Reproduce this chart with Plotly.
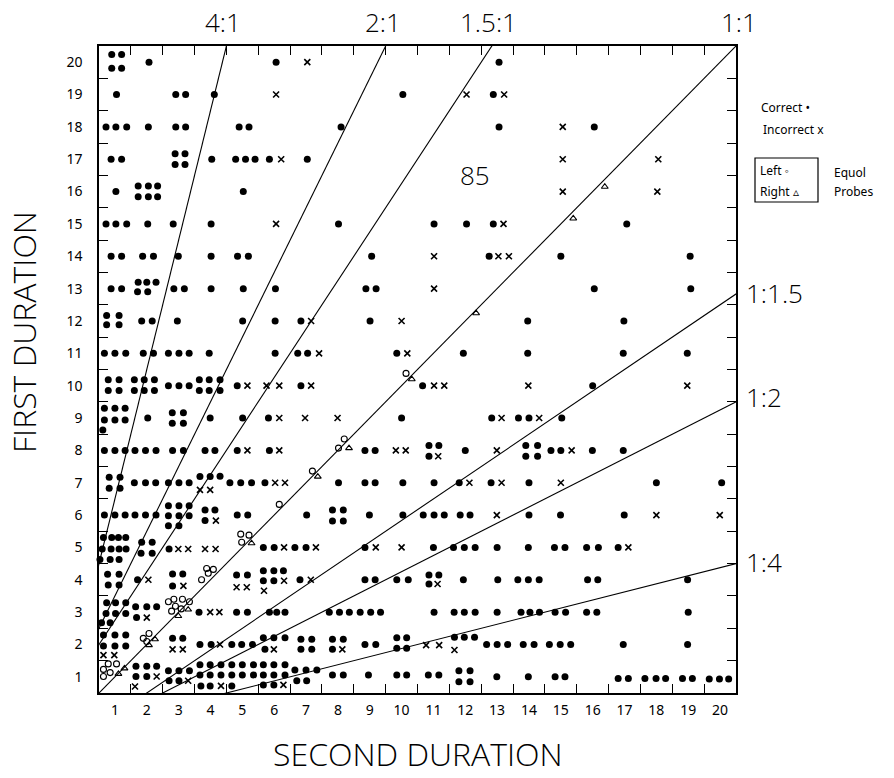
import plotly.graph_objects as go

# ---- data (cell coordinates: column = second duration, row = first duration) ----
durations = list(range(1, 21))

correct_pts = [
    # row 20
    (0.90,20.24),(1.21,20.24),(0.90,19.81),(1.21,19.81),(2.07,20.0),(6.06,20.0),(13.06,20.0),
    # row 19
    (1.05,19),(2.91,19),(3.22,19),(4.12,19),(10.04,19),(12.88,19),
    # row 18
    (0.72,18),(1.03,18),(1.37,18),(2.05,18),(2.91,18),(3.22,18),(4.90,18),(5.21,18),(8.10,18),(13.06,18),(16.05,18),
    # row 17
    (0.88,17),(1.21,17),(2.89,17.17),(3.20,17.17),(2.89,16.84),(3.20,16.84),(4.04,17),(4.79,17),(5.10,17),(5.40,17),(5.85,17),(7.04,17),
    # row 16
    (1.03,16),(1.73,16.17),(2.05,16.17),(2.34,16.17),(1.73,15.84),(2.05,15.84),(2.34,15.84),(5.03,16),
    # row 15
    (0.72,15),(1.03,15),(1.37,15),(2.03,15),(2.83,15),(4.02,15),(8.02,15),(11.02,15),(12.04,15),(12.88,15),(17.07,15),
    # row 14
    (0.88,14),(1.21,14),(1.87,14),(2.21,14),(2.99,14),(4.02,14),(4.85,14),(5.19,14),(9.06,14),(12.75,14),(15.00,14),(19.06,14),
    # row 13
    (0.88,13),(1.21,13),(1.73,13.2),(2.0,13.2),(2.29,13.2),(1.71,12.9),(2.03,12.9),(2.85,13),(3.18,13),(4.02,13),(5.03,13),(6.04,13),(8.88,13),(9.20,13),(16.05,13),(19.08,13),
    # row 12
    (0.74,12.17),(1.13,12.17),(0.74,11.88),(1.13,11.88),(1.84,12),(2.17,12),(2.96,12),(5.01,12),(6.03,12),(6.84,12),(9.01,12),(13.96,12),(16.98,12),
    # row 11
    (0.67,11),(1.0,11),(1.34,11),(1.89,11),(2.21,11),(2.68,11),(3.01,11),(3.33,11),(3.96,11),(6.03,11),(6.74,11),(7.05,11),(9.85,11),(11.94,11),(13.96,11),(16.96,11),(18.97,11),
    # row 10
    (0.79,10.18),(1.13,10.18),(0.79,9.85),(1.13,9.85),(1.61,10.18),(1.92,10.18),(2.24,10.18),(1.61,9.85),(1.92,9.85),(2.24,9.85),
    (2.68,10),(3.01,10),(3.33,10),(3.65,10.18),(3.96,10.18),(4.30,10.18),(3.65,9.85),(3.96,9.85),(4.30,9.85),(4.84,10),(6.84,10),(10.66,10),(16.0,10),
    # row 9
    (0.67,9.3),(1.0,9.3),(1.32,9.3),(0.67,8.94),(1.0,8.94),(1.32,8.94),(0.62,8.63),(2.03,9),(2.80,9.16),(3.15,9.16),(2.80,8.84),(3.15,8.84),
    (3.99,9),(5.01,9),(5.82,9),(10.0,9),(12.83,9),(13.67,9),(14.0,9),(15.03,9),
    # row 8
    (0.67,8),(1.0,8),(1.32,8),(1.63,8),(1.96,8),(2.29,8),(2.81,8),(3.15,8),(3.83,8),(4.14,8),(4.84,8),(5.85,8),(8.85,8),(9.17,8),
    (10.86,8.15),(11.17,8.15),(10.86,7.82),(12.0,8),(13.90,8.15),(14.27,8.15),(13.90,7.82),(14.27,7.82),(14.69,8),(15.0,8),(15.99,8),(16.96,8),
    # row 7
    (0.82,7.17),(1.16,7.17),(0.82,6.83),(1.16,6.83),(1.61,7),(1.96,7),(2.28,7),(2.68,7),(3.01,7),(3.33,7),(3.67,7.19),(3.99,7.19),(4.30,7.2),
    (4.61,7),(4.95,7),(5.29,7),(5.71,7),(8.02,7),(8.85,7),(9.17,7),(10.04,7),(11.02,7),(11.81,7),(12.81,7),(14.0,7),(18.0,7),(20.05,7),
    # row 6
    (0.67,6),(1.0,6),(1.32,6),(1.63,6),(1.96,6),(2.29,6),(2.68,6.29),(3.01,6.29),(3.33,6.29),(2.68,5.98),(3.01,5.98),(3.33,5.98),(2.68,5.67),(3.01,5.67),
    (3.83,6.16),(4.14,6.16),(3.83,5.83),(4.84,6),(5.17,6),(7.02,6),(7.83,6.16),(8.17,6.16),(7.83,5.82),(8.17,5.82),(8.99,6),(10.04,6),
    (10.68,6),(11.02,6),(11.34,6),(11.84,6),(12.15,6),(14.0,6),(14.99,6),(16.99,6),
    # row 5
    (0.64,5.31),(0.90,5.31),(1.11,5.31),(1.34,5.31),(0.60,4.95),(0.88,4.95),(1.13,4.95),(1.35,4.95),(0.53,4.63),(0.85,4.63),(1.13,4.63),
    (1.84,5.16),(2.17,5.16),(1.82,4.82),(2.17,4.82),(2.70,4.95),(5.66,5),(6.0,5),(6.65,5),(7.0,5),(8.85,5),(11.0,5),(11.63,5),(11.97,5),(12.31,5),
    (13.0,5),(13.98,5),(14.8,5),(15.13,5),(15.81,5),(16.18,5),(16.8,5),
    # row 4
    (0.77,4.17),(1.13,4.17),(0.79,3.84),(1.13,3.84),(1.71,4.0),(2.81,4.18),(3.13,4.18),(2.81,3.81),(4.82,4.15),(5.16,4.15),(5.66,4.28),(5.99,4.28),(6.29,4.28),
    (5.66,3.97),(5.99,3.97),(6.81,4),(8.85,4),(9.17,4),(9.85,4),(10.21,4),(10.86,4.15),(11.17,4.15),(10.86,3.87),(11.94,4),(13.02,4),(13.65,4),(13.98,4),(14.32,4),
    (15.84,4),(16.16,4),(18.98,4),
    # row 3
    (0.74,3.29),(1.02,3.29),(1.34,3.29),(0.72,2.96),(1.02,2.96),(1.34,2.96),(0.58,2.67),(0.85,2.67),(1.65,3.17),(2.0,3.17),(2.31,3.17),(1.68,2.83),
    (3.64,3.0),(4.82,3.0),(5.16,3.0),(5.85,3),(6.08,3),(6.34,3),(7.73,3),(8.05,3),(8.36,3),(8.70,3),(9.03,3),(9.34,3),(11.02,3),(11.65,3),(11.97,3),(12.31,3),
    (13.0,3),(13.75,3),(14.03,3),(14.33,3),(14.82,3),(15.15,3),(15.81,3),(16.13,3),(19.0,3),
    # row 2
    (0.64,2.29),(1.0,2.29),(1.34,2.29),(0.64,1.95),(1.0,1.95),(1.34,1.95),(2.81,2.19),(3.13,2.19),(3.67,2.0),(4.02,2.0),(4.67,2.0),(4.98,2.0),(5.32,2.0),
    (5.66,2.21),(5.99,2.21),(6.34,2.21),(5.71,1.85),(6.84,2.16),(7.18,2.16),(6.84,1.85),(7.18,1.85),(7.83,2.16),(8.17,2.16),(7.83,1.85),(8.85,2.0),(9.19,2.0),
    (9.85,2.21),(10.16,2.21),(9.85,1.88),(10.16,1.88),(11.66,2.22),(11.97,2.22),(12.29,2.22),(12.67,2.0),(13.0,2.0),(13.33,2.0),(13.82,2.0),(14.16,2.0),
    (14.64,2.0),(14.98,2.0),(15.31,2.0),(16.96,2.0),(18.98,2.0),
    # row 1
    (1.66,1.33),(2.0,1.33),(2.31,1.33),(1.66,1.01),(2.0,1.01),(2.68,1.19),(3.01,1.19),(3.34,1.19),(2.70,0.88),(3.01,0.88),
    (3.67,1.37),(3.99,1.37),(4.33,1.37),(3.67,1.06),(3.99,1.06),(4.33,1.06),(3.70,0.72),(3.99,0.72),
    (4.67,1.37),(5.0,1.37),(5.35,1.37),(4.67,1.06),(5.0,1.06),(5.35,1.06),(4.67,0.72),
    (5.66,1.37),(5.99,1.37),(6.34,1.37),(5.66,1.06),(5.99,1.06),(6.34,1.06),(5.66,0.75),(5.99,0.75),
    (6.65,1.21),(7.0,1.21),(7.34,1.21),(6.71,0.88),(7.02,0.88),(7.83,1.06),(8.17,1.06),(8.96,1.06),(9.85,1.06),(10.16,1.06),(10.84,1.06),(11.17,1.06),
    (11.80,1.19),(12.15,1.19),(11.80,0.85),(12.15,0.85),(12.99,1.0),(13.98,1.0),(14.82,1.0),(15.13,1.0),(16.80,0.95),(17.12,0.95),
    (17.64,0.95),(17.99,0.95),(18.29,0.95),(18.82,0.95),(19.13,0.95),(19.66,0.93),(19.98,0.93),(20.27,0.93),
]

incorrect_pts = [
    (7.04,20.0),(6.06,19),(12.04,19),(13.22,19),(15.06,18),(6.22,17),(15.06,17),(18.06,17),(15.06,16),(18.03,16),
    (6.06,15),(13.20,15),(11.02,14),(13.04,14),(13.37,14),(11.02,13),(7.16,12),(10.0,12),(7.41,11),(10.18,11),
    (5.16,10),(5.76,10),(6.16,10),(7.16,10),(11.02,10),(11.34,10),(13.98,10),(18.97,10),
    (6.16,9),(6.97,9),(7.99,9),(13.14,9),(14.32,9),
    (5.16,8),(6.16,8),(9.82,8),(10.13,8),(11.15,7.82),(12.99,8),(15.34,8),
    (3.67,6.78),(3.99,6.78),(6.03,7),(6.34,7),(12.13,7),(13.14,7),(15.0,7),
    (4.17,5.83),(12.99,6),(18.0,6),(19.99,6),
    (2.99,4.95),(3.30,4.95),(3.83,4.95),(4.16,4.95),(6.31,5),(7.31,5),(9.19,5),(10.0,5),(17.12,5),
    (2.05,4.0),(3.15,3.81),(4.82,3.77),(5.14,3.77),(6.31,3.97),(5.68,3.66),(7.15,4.0),(11.13,3.87),
    (2.0,2.83),(3.99,3.0),(4.28,3.0),
    (0.64,1.67),(0.98,1.67),(2.81,1.85),(3.13,1.85),(4.30,2.0),(5.99,1.85),(8.14,1.85),(10.77,1.98),(11.18,1.98),(11.66,1.83),
    (2.31,1.01),(1.63,0.70),(3.30,0.88),(4.33,0.72),(6.29,0.75),
]

left_probe_pts = [
    (10.14,10.38),(8.02,8.07),(8.20,8.35),(7.20,7.36),(6.16,6.33),(4.95,5.41),(5.21,5.38),(4.98,5.16),
    (3.72,4.0),(3.88,4.35),(4.09,4.32),(3.93,4.20),
    (2.68,3.32),(2.85,3.40),(3.12,3.40),(3.34,3.32),(2.78,3.03),(3.08,3.10),(2.90,3.18),
    (1.89,2.19),(2.07,2.34),(2.0,2.09),
    (0.79,1.40),(1.05,1.40),(0.64,1.23),(0.85,1.13),(0.64,1.01),
]

right_probe_pts = [
    (16.38,16.15),(15.39,15.17),(12.34,12.24),(10.32,10.2),(8.35,8.07),(7.37,7.19),(5.29,5.13),
    (2.99,2.88),(3.30,3.08),(2.26,2.16),(2.07,1.98),(1.30,1.26),(1.11,1.09),
]

# ratio lines (first : second)
ratio_labels = ["4:1", "2:1", "1.5:1", "1:1", "1:1.5", "1:2", "1:4"]
ratio_values = [4.0, 2.0, 1.5, 1.0, 1 / 1.5, 0.5, 0.25]

fig = go.Figure()

# ratio lines, through the lower-left reference corners of the grid
for r in ratio_values:
    xs = [-2.0, 30.0]
    if r > 1:
        ys = [r * (x + 0.5) + 0.5 for x in xs]
    elif r == 1:
        ys = list(xs)
    else:
        ys = [(x - 0.5) * r - 0.5 for x in xs]
    fig.add_trace(go.Scatter(x=xs, y=ys, mode="lines",
                             line=dict(color="black", width=1.1),
                             hoverinfo="skip", showlegend=False))

def add_pts(pts, **marker):
    fig.add_trace(go.Scatter(x=[p[0] for p in pts], y=[p[1] for p in pts],
                             mode="markers", marker=marker, cliponaxis=False,
                             showlegend=False))

add_pts(correct_pts, symbol="circle", size=7, color="black")
add_pts(incorrect_pts, symbol="x-thin", size=6, line=dict(color="black", width=1.6))
add_pts(left_probe_pts, symbol="circle-open", size=6, color="black", line=dict(width=1.1))
add_pts(right_probe_pts, symbol="triangle-up-open", size=6, color="black", line=dict(width=1.1))

boundaries = [k + 0.5 for k in durations[:-1]]
axis_common = dict(
    range=[0.5, 20.5], tickmode="array", tickvals=durations,
    ticktext=[str(d) for d in durations], ticks="", showgrid=False, zeroline=False,
    showline=True, linecolor="black", linewidth=1.5, mirror="allticks",
    tickfont=dict(family="Noto Sans", size=14, color="black"),
    minor=dict(tickmode="array", tickvals=boundaries, ticks="inside",
               ticklen=9, tickwidth=1.3, tickcolor="black", showgrid=False),
)
fig.update_xaxes(**axis_common, ticklabelstandoff=3)
fig.update_yaxes(**axis_common, ticklabelstandoff=12)

title_font = dict(family="Open Sans", size=32, color="black", weight=300)
ratio_font = dict(family="Open Sans", size=26, color="black", weight=300)
small_font = dict(family="Noto Sans", size=12, color="black")

ann = []
ann.append(dict(text="SECOND DURATION", x=0.5, y=(693 - 753) / 647, xref="paper", yref="paper",
                showarrow=False, font=title_font, xanchor="center", yanchor="middle"))
ann.append(dict(text="FIRST DURATION", x=(24 - 99) / 637, y=(693 - 332) / 647, xref="paper", yref="paper",
                showarrow=False, font=title_font, textangle=-90, xanchor="center", yanchor="middle"))
# top ratio labels (paper fractions of plot width)
for lab, px in zip(ratio_labels[:4], [223, 383, 488, 739]):
    ann.append(dict(text=lab, x=(px - 99) / 637, y=(693 - 22) / 647, xref="paper", yref="paper",
                    showarrow=False, font=ratio_font, xanchor="center", yanchor="middle"))
for lab, py in zip(ratio_labels[4:], [293, 397, 562]):
    ann.append(dict(text=lab, x=(744 - 99) / 637, y=(693 - py) / 647, xref="paper", yref="paper",
                    showarrow=False, font=ratio_font, xanchor="left", yanchor="middle"))
ann.append(dict(text="85", x=(475 - 99) / 637, y=(693 - 175) / 647, xref="paper", yref="paper",
                showarrow=False, font=ratio_font, xanchor="center", yanchor="middle"))
# legend texts
for txt, px, py in [("Correct •", 759, 107), ("Incorrect x", 761, 129),
                    ("Left ◦", 758, 170), ("Right ▵", 758, 191),
                    ("Equol", 832, 172), ("Probes", 832, 191)]:
    ann.append(dict(text=txt, x=(px - 99) / 637, y=(693 - py) / 647, xref="paper", yref="paper",
                    showarrow=False, font=small_font, xanchor="left", yanchor="middle"))

fig.update_layout(
    width=894, height=778,
    margin=dict(l=99, r=158, t=46, b=85),
    plot_bgcolor="white", paper_bgcolor="white",
    annotations=ann,
    shapes=[dict(type="rect", xref="paper", yref="paper",
                 x0=(755 - 99) / 637, x1=(818 - 99) / 637,
                 y0=(693 - 202) / 647, y1=(693 - 158) / 647,
                 line=dict(color="black", width=1.2))],
)

fig.write_html("out.html")
